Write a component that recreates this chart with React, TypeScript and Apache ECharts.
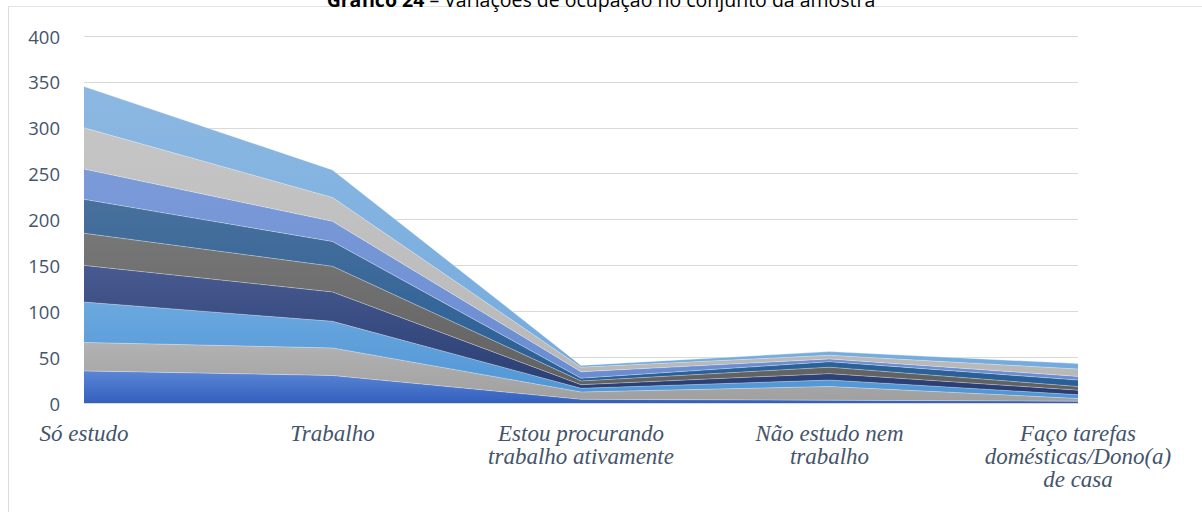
import React, { useEffect, useRef } from "react";
import * as echarts from "echarts";

const categories = [
  "Só estudo",
  "Trabalho",
  "Estou procurando\ntrabalho ativamente",
  "Não estudo nem\ntrabalho",
  "Faço tarefas\ndomésticas/Dono(a)\nde casa",
];

const serie1 = [35, 30, 4, 3, 2];
const serie2 = [31, 30, 8, 15, 3];
const serie3 = [44, 29, 4, 7, 4];
const serie4 = [40, 32, 4, 7, 5];
const serie5 = [35, 28, 4, 7, 4];
const serie6 = [37, 27, 3, 6, 7];
const serie7 = [33, 22, 7, 3, 4];
const serie8 = [45, 26, 5, 4, 8];
const serie9 = [45, 30, 2, 4, 6];

const seriesData = [serie1, serie2, serie3, serie4, serie5, serie6, serie7, serie8, serie9];
const seriesNames = ["Série 1", "Série 2", "Série 3", "Série 4", "Série 5", "Série 6", "Série 7", "Série 8", "Série 9"];

const gradients: [string, string][] = [
  ["#5b86d6", "#3360be"],
  ["#b2b2b2", "#a0a0a0"],
  ["#6ba8df", "#4f95d5"],
  ["#485a8f", "#283d73"],
  ["#777777", "#606060"],
  ["#48709c", "#285f96"],
  ["#7b9ad8", "#6a8dd2"],
  ["#c5c5c5", "#b8b8b8"],
  ["#8cb8e2", "#74abde"],
];

const yTicks = { min: 0, max: 400, interval: 50 };

export default function App() {
  const ref = useRef<HTMLDivElement>(null);
  useEffect(() => {
    if (!ref.current) return;
    const chart = echarts.init(ref.current, undefined, { renderer: "svg" });
    chart.setOption({
      animation: false,
      backgroundColor: "#ffffff",
      title: {
        text: "{b|Gráfico 24} – Variações de ocupação no conjunto da amostra",
        left: "center",
        top: -16,
        textStyle: {
          fontFamily: "Open Sans",
          fontSize: 19.5,
          color: "#000000",
          fontWeight: "normal",
          rich: {
            b: { fontFamily: "Open Sans", fontSize: 19.5, fontWeight: "bold", color: "#000000" },
          },
        },
      },
      graphic: [
        { type: "line", shape: { x1: 8.5, y1: 6, x2: 8.5, y2: 512 }, style: { stroke: "#d9d9d9", lineWidth: 1 } },
        { type: "line", shape: { x1: 8, y1: 6.5, x2: 1202, y2: 6.5 }, style: { stroke: "#e3e3e3", lineWidth: 1 } },
      ],
      grid: { left: 84, right: 124, top: 36, bottom: 109, containLabel: false },
      xAxis: {
        type: "category",
        data: categories,
        boundaryGap: false,
        axisLine: { show: true, lineStyle: { color: "#d9d9d9" } },
        axisTick: { show: false },
        axisLabel: {
          interval: 0,
          margin: 19,
          fontFamily: "Liberation Serif",
          fontStyle: "italic",
          fontSize: 23,
          lineHeight: 23,
          color: "#44546a",
          align: "center",
        },
      },
      yAxis: {
        type: "value",
        min: yTicks.min,
        max: yTicks.max,
        interval: yTicks.interval,
        axisLine: { show: false },
        axisTick: { show: false },
        splitLine: { lineStyle: { color: "#d9d9d9", width: 1 } },
        axisLabel: {
          margin: 24,
          fontFamily: "Open Sans",
          fontSize: 18.5,
          color: "#44546a",
        },
      },
      series: seriesData.map((d, i) => ({
        name: seriesNames[i],
        type: "line",
        stack: "total",
        data: d,
        symbol: "none",
        showSymbol: false,
        lineStyle: { width: 0.6, color: "rgba(255,255,255,0.55)" },
        areaStyle: {
          opacity: 1,
          color: new echarts.graphic.LinearGradient(0, 0, 0, 1, [
            { offset: 0, color: gradients[i][0] },
            { offset: 1, color: gradients[i][1] },
          ]),
        },
        z: 2,
      })),
    });
    return () => chart.dispose();
  }, []);
  return (
    <div
      ref={ref}
      style={{ position: "fixed", left: 0, top: 0, width: 1202, height: 512, background: "#fff" }}
    />
  );
}
